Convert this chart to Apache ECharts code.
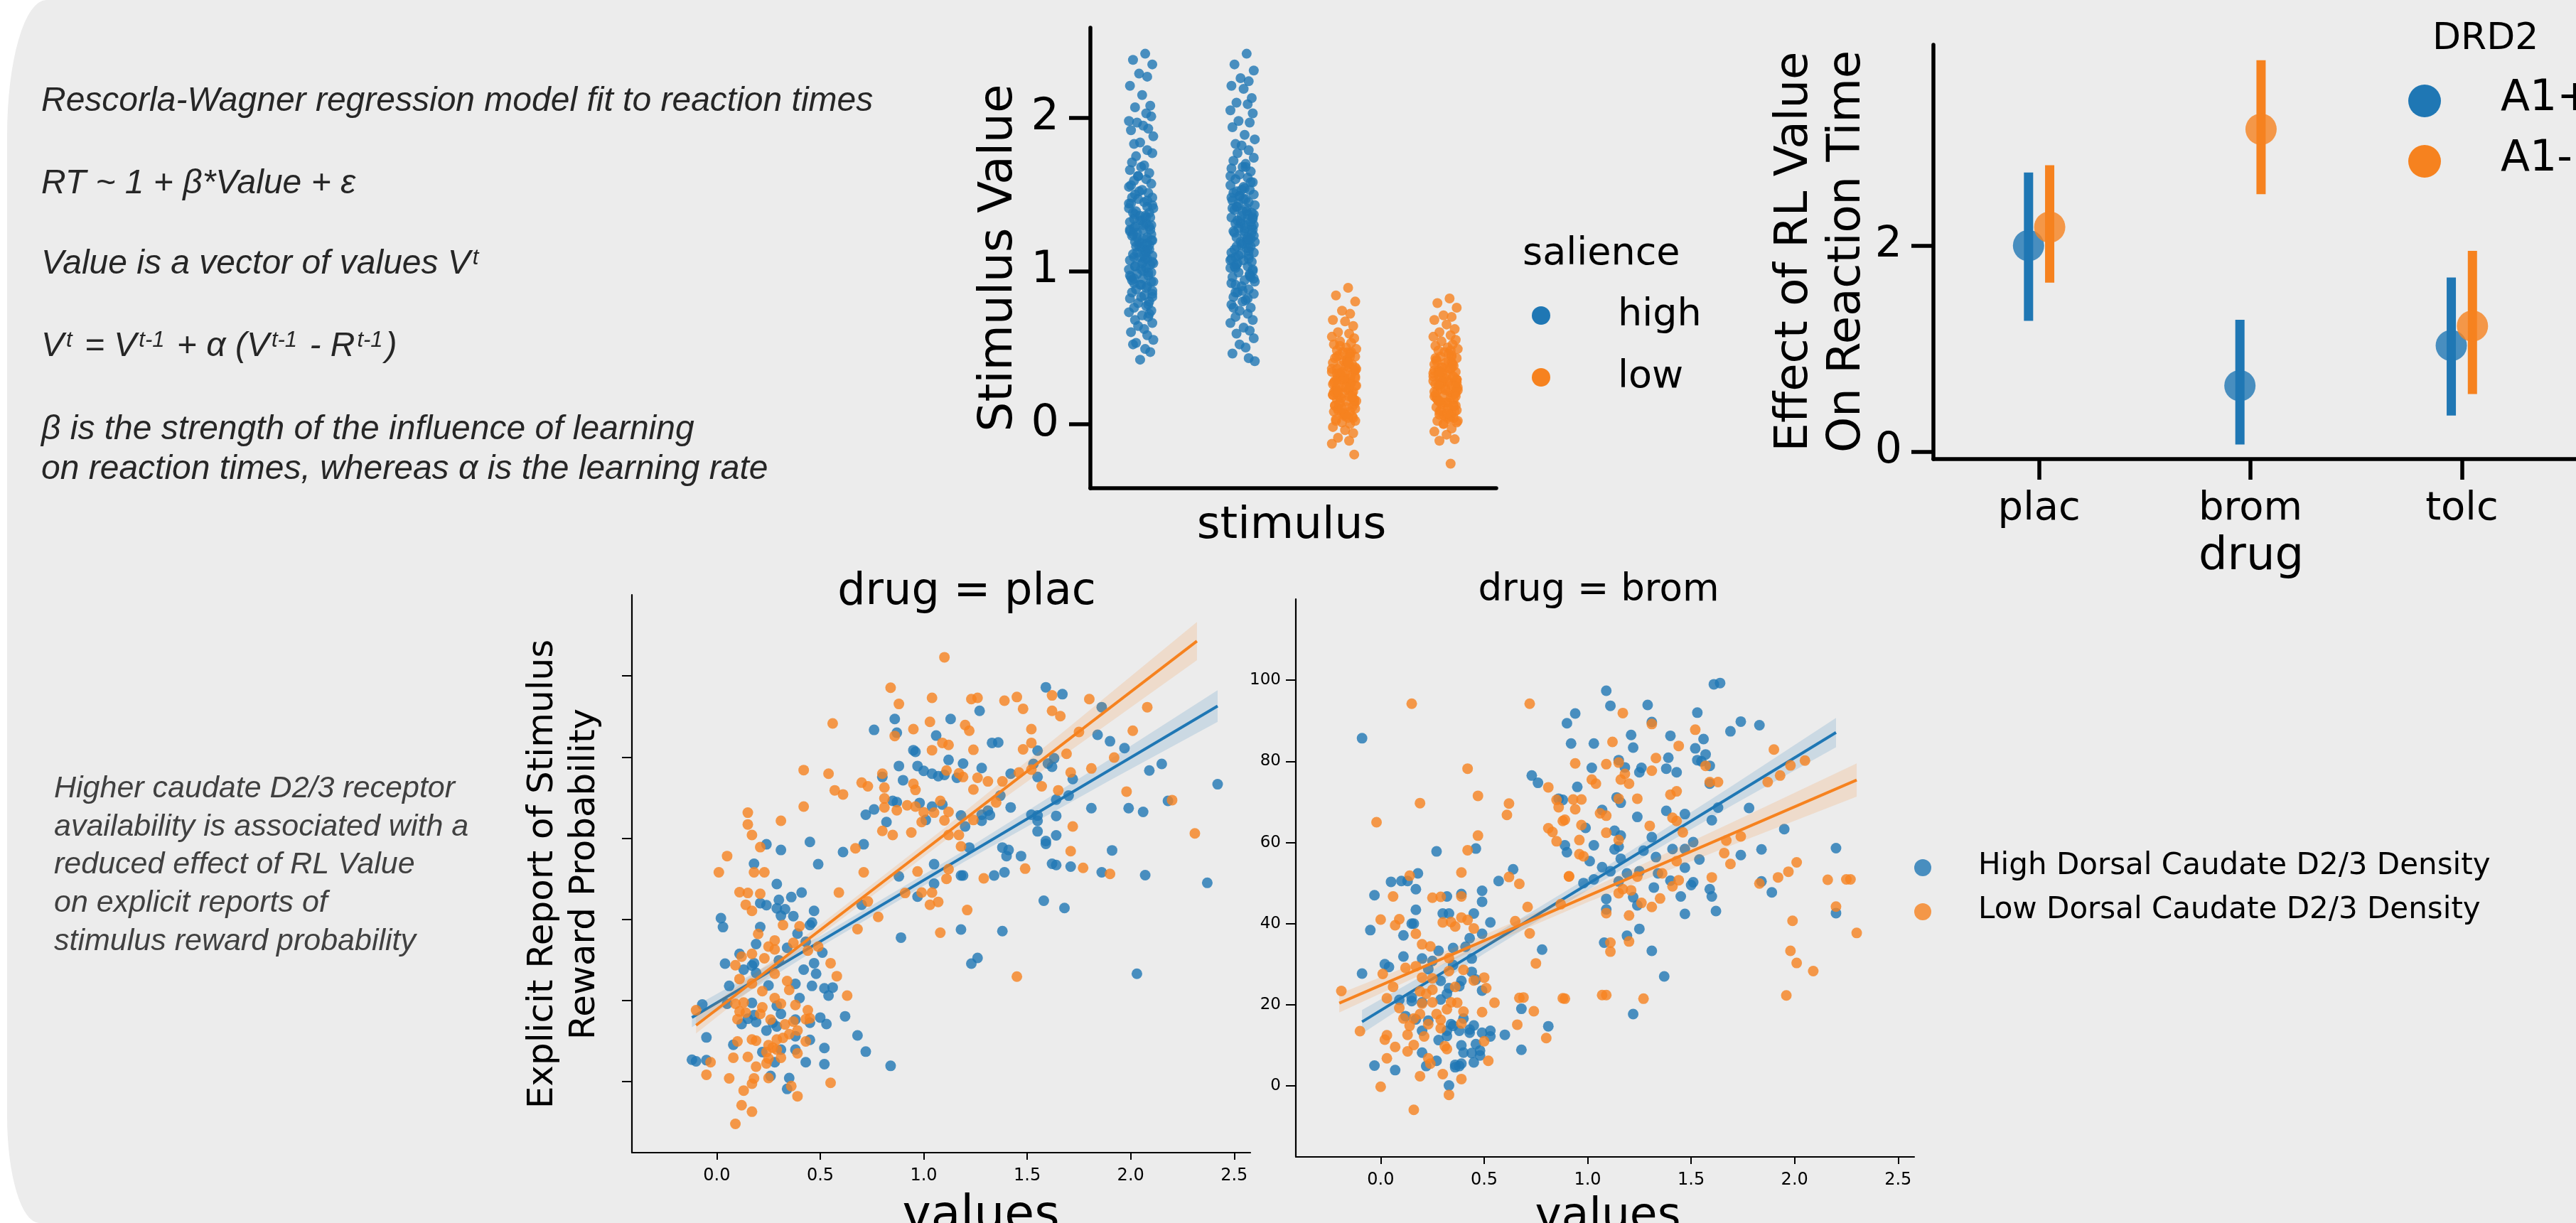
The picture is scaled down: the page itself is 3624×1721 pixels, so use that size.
<!DOCTYPE html>
<html>
<head>
<meta charset="utf-8">
<script src="https://cdn.jsdelivr.net/npm/echarts@6/dist/echarts.min.js"></script>
<style>
  html, body { margin: 0; padding: 0; background: #fff; overflow: hidden; }
  #panel {
    position: absolute; left: 10px; top: 0; width: 3700px; height: 1721px;
    background: #ececec;
    border-top-left-radius: 55px 190px;
    border-bottom-left-radius: 45px 150px;
  }
  #chart { position: absolute; left: 0; top: 0; width: 3624px; height: 1721px; }
</style>
</head>
<body>
<div id="panel"></div>
<div id="chart"></div>
<script>
// ---- data ----
const stimuli = ['s1', 's2', 's3', 's4']
const salience = ['high', 'high', 'low', 'low']

const stripHighA = [2.42, 2.38, 2.35, 2.29, 2.27, 2.21, 2.15, 2.08, 2.07, 2.03, 1.98, 2.01, 1.97, 1.93, 1.92, 1.95, 1.88, 1.83, 1.84, 1.79, 1.75, 1.77, 1.71, 1.69, 1.68, 1.66, 1.64, 1.62, 1.6, 1.59, 1.57, 1.55, 1.53, 1.51, 1.5, 1.48, 1.47, 1.45, 1.44, 1.42, 1.41, 1.39, 1.38, 1.36, 1.35, 1.33, 1.32, 1.31, 1.29, 1.28, 1.27, 1.25, 1.24, 1.23, 1.21, 1.2, 1.19, 1.18, 1.16, 1.15, 1.14, 1.13, 1.11, 1.1, 1.09, 1.08, 1.07, 1.05, 1.04, 1.03, 1.02, 1.01, 0.99, 0.98, 0.97, 0.96, 0.95, 0.93, 0.92, 0.91, 0.9, 0.88, 0.87, 0.86, 0.84, 0.83, 0.82, 0.8, 0.79, 0.77, 0.76, 0.74, 0.73, 0.71, 0.7, 0.68, 0.66, 0.64, 0.62, 0.6, 0.58, 0.55, 0.53, 0.52, 0.49, 0.47, 0.42, 1.26, 1.12, 1.17, 1.34, 1.06, 1.22, 1.3, 0.94, 1.0, 1.43, 1.37,
  1.46, 1.19, 0.91, 1.38, 1.08, 1.24, 0.85, 1.52, 1.14, 0.97, 1.33, 1.27, 1.03, 0.89, 1.41, 1.2, 1.12, 0.78, 1.56, 1.3, 1.05, 0.95, 1.36, 1.22, 1.16, 0.83, 1.48, 1.1, 1.01, 1.27, 0.72, 1.62, 1.35, 1.09, 0.93, 1.44, 1.18, 0.99, 1.29, 1.06]
const stripHighB = [2.42, 2.35, 2.31, 2.26, 2.24, 2.21, 2.19, 2.13, 2.1, 2.09, 2.05, 2.03, 1.98, 1.97, 1.94, 1.89, 1.86, 1.83, 1.82, 1.79, 1.77, 1.74, 1.72, 1.7, 1.68, 1.67, 1.65, 1.63, 1.61, 1.6, 1.58, 1.56, 1.55, 1.53, 1.52, 1.5, 1.49, 1.47, 1.46, 1.45, 1.43, 1.42, 1.4, 1.39, 1.38, 1.36, 1.35, 1.34, 1.32, 1.31, 1.3, 1.28, 1.27, 1.26, 1.24, 1.23, 1.22, 1.2, 1.19, 1.18, 1.16, 1.15, 1.14, 1.12, 1.11, 1.1, 1.08, 1.07, 1.06, 1.04, 1.03, 1.02, 1.0, 0.99, 0.97, 0.96, 0.94, 0.93, 0.91, 0.9, 0.88, 0.86, 0.85, 0.83, 0.81, 0.8, 0.78, 0.76, 0.74, 0.72, 0.7, 0.68, 0.66, 0.63, 0.61, 0.59, 0.56, 0.52, 0.5, 0.46, 0.43, 0.41, 1.33, 1.25, 1.41, 1.29, 1.17, 1.48, 1.37, 1.21, 1.09, 1.54, 1.44, 1.01,
  1.51, 1.26, 0.95, 1.42, 1.13, 1.31, 0.87, 1.58, 1.2, 1.03, 1.37, 1.33, 1.08, 0.92, 1.47, 1.25, 1.16, 0.82, 1.62, 1.35, 1.1, 0.98, 1.41, 1.28, 1.19, 0.86, 1.53, 1.15, 1.05, 1.3, 0.76, 1.68, 1.39, 1.12, 0.96, 1.49, 1.22, 1.02, 1.34, 1.07]
const stripLowA = [0.89, 0.84, 0.8, 0.74, 0.72, 0.68, 0.67, 0.64, 0.6, 0.59, 0.57, 0.56, 0.54, 0.53, 0.52, 0.5, 0.49, 0.48, 0.47, 0.46, 0.45, 0.44, 0.43, 0.42, 0.41, 0.4, 0.39, 0.38, 0.37, 0.36, 0.35, 0.34, 0.33, 0.32, 0.31, 0.3, 0.29, 0.28, 0.27, 0.26, 0.25, 0.24, 0.23, 0.22, 0.21, 0.2, 0.19, 0.18, 0.17, 0.16, 0.15, 0.14, 0.13, 0.12, 0.11, 0.1, 0.09, 0.08, 0.07, 0.06, 0.05, 0.04, 0.03, 0.02, 0.01, 0.0, -0.02, -0.04, -0.06, -0.09, -0.11, -0.13, -0.2, 0.33, 0.27, 0.21, 0.38, 0.15, 0.44, 0.24, 0.3, 0.18, 0.35, 0.12, 0.41, 0.07, 0.26, 0.2, 0.32, 0.23, 0.29, 0.16, 0.36, 0.05, 0.47, 0.1,
  0.31, 0.17, 0.42, 0.08, 0.26, 0.36, 0.13, 0.22, 0.47, 0.04, 0.29, 0.19, 0.39, 0.11, 0.33, 0.24, 0.51, 0.15, 0.28, 0.06, 0.37, 0.21, 0.44, 0.1, 0.3, 0.18, 0.4, 0.02, 0.25, 0.34]
const stripLowB = [0.82, 0.79, 0.76, 0.71, 0.7, 0.68, 0.65, 0.62, 0.6, 0.58, 0.57, 0.55, 0.54, 0.52, 0.51, 0.5, 0.49, 0.48, 0.47, 0.45, 0.44, 0.43, 0.42, 0.41, 0.4, 0.39, 0.38, 0.37, 0.36, 0.35, 0.34, 0.33, 0.32, 0.31, 0.3, 0.29, 0.28, 0.27, 0.26, 0.25, 0.24, 0.23, 0.22, 0.21, 0.2, 0.19, 0.18, 0.17, 0.16, 0.15, 0.14, 0.13, 0.12, 0.11, 0.1, 0.09, 0.08, 0.07, 0.06, 0.05, 0.04, 0.03, 0.02, 0.01, 0.0, -0.03, -0.05, -0.07, -0.1, -0.11, -0.26, 0.31, 0.25, 0.37, 0.19, 0.43, 0.28, 0.22, 0.34, 0.14, 0.4, 0.09, 0.29, 0.17, 0.46, 0.23, 0.35, 0.12, 0.27, 0.05, 0.32, 0.2,
  0.28, 0.14, 0.39, 0.06, 0.23, 0.33, 0.1, 0.19, 0.44, 0.02, 0.26, 0.16, 0.36, 0.08, 0.3, 0.21, 0.48, 0.12, 0.25, 0.04, 0.34, 0.18, 0.41, 0.07, 0.27, 0.15, 0.37, 0.0, 0.22, 0.31]
// horizontal jitter of the strip points (category units)
const stripJitter = [0.04, -0.08, 0.11, -0.02, 0.06, -0.11, 0.01, 0.09, -0.06, 0.05, -0.12, 0.1, -0.04, 0.07, -0.1, 0.02, 0.12, -0.07, -0.01, 0.06, -0.05, 0.11, -0.09, 0.03, 0.0, -0.11, 0.08, -0.03, 0.05, -0.07, 0.1, -0.12, 0.01, 0.07, -0.06, 0.11, -0.03, 0.03, -0.1, 0.06, 0.12, -0.05, -0.08, 0.04, 0.09, -0.01, -0.11, 0.05, 0.08, -0.07, 0.02, -0.04, 0.1, -0.09, 0.02, 0.11, -0.06, 0.06, -0.02, 0.0, 0.08]

const drugs = ['plac', 'brom', 'tolc']
const a1PlusMean = [2.0, 0.64, 1.03]
const a1PlusLow = [1.27, 0.07, 0.35]
const a1PlusHigh = [2.71, 1.28, 1.69]
const a1MinusMean = [2.18, 3.13, 1.22]
const a1MinusLow = [1.64, 2.5, 0.56]
const a1MinusHigh = [2.78, 3.8, 1.95]

const valueTicks = [0, 0.5, 1, 1.5, 2, 2.5]
const reportTicks = [0, 20, 40, 60, 80, 100]

const placHigh = [[0.95,81.7],[0.96,81.3],[0.88,77.8],[0.97,77.8],[1.00,76.6],[1.04,75.9],[1.07,75.3],[1.10,75.6],[1.12,79.3],[0.90,74.3],[0.80,75.1],[0.85,69.2],[0.87,68.9],[0.72,65.8],[0.76,67.1],[0.82,64.0],[0.98,68.7],[1.04,67.8],[1.09,68.3],[1.01,64.5],[0.24,58.5],[0.31,57.1],[0.45,59.1],[0.18,53.7],[0.49,53.6],[0.61,56.6],[0.71,58.5],[0.29,48.7],[0.30,44.8],[0.41,46.6],[0.36,45.5],[0.21,44.0],[0.24,43.5],[0.29,42.7],[0.33,42.5],[0.31,40.9],[0.37,40.8],[0.47,42.1],[0.02,40.3],[0.03,38.1],[0.21,38.1],[0.46,39.2],[0.45,38.6],[0.39,36.5],[0.43,34.5],[0.19,33.9],[0.34,33.0],[0.51,31.8],[0.11,31.5],[0.04,29.1],[0.18,29.2],[0.13,27.6],[0.17,28.6],[0.19,26.8],[0.30,29.9],[0.47,29.2],[0.42,27.6],[0.48,26.6],[0.06,23.6],[0.25,23.7],[0.38,24.1],[0.46,23.6],[0.52,23.0],[0.56,23.2],[0.54,21.2],[0.40,20.6],[-0.07,19.0],[0.05,19.2],[0.17,19.4],[0.29,18.7],[0.31,16.7],[0.18,16.4],[0.15,15.5],[0.12,14.2],[0.19,14.7],[0.27,14.5],[0.24,12.6],[0.29,13.6],[0.38,15.3],[0.45,14.5],[0.50,15.8],[0.53,14.2],[0.62,16.1],[0.38,11.2],[0.45,10.3],[0.68,11.4],[-0.05,10.9],[0.08,9.1],[0.22,7.3],[0.31,7.9],[0.38,7.9],[0.52,8.3],[0.72,7.4],[-0.12,5.4],[-0.10,5.0],[-0.05,5.3],[0.28,4.8],[0.43,4.8],[0.52,4.3],[0.84,3.9],[0.26,1.4],[0.35,0.9],[0.34,-1.8],[0.89,35.5],[0.88,50.6],[0.70,43.6],[0.97,45.6],[1.05,48.8],[1.05,53.6],
  [1.59,97.2],[1.67,95.5],[1.27,91.4],[1.13,89.4],[1.06,85.3],[1.33,83.5],[1.36,83.6],[1.55,81.6],[1.84,85.5],[1.90,83.9],[1.97,82.2],[1.86,92.3],[1.19,78.4],[1.28,77.3],[1.62,77.6],[1.63,79.7],[1.60,78.4],[1.53,78.3],[1.42,75.9],[1.55,75.1],[1.72,74.6],[2.09,76.7],[2.15,78.3],[2.42,73.3],[1.16,74.9],[1.37,70.5],[1.70,70.5],[1.64,69.5],[1.42,67.6],[1.81,67.4],[1.99,67.4],[2.06,66.5],[2.18,69.2],[1.18,65.6],[1.28,65.8],[1.31,66.8],[1.32,65.7],[1.28,64.3],[1.20,62.9],[1.52,65.8],[1.55,65.6],[1.55,64.3],[1.64,65.5],[1.55,61.7],[1.64,60.7],[1.59,59.3],[1.59,58.6],[1.22,57.7],[1.38,57.7],[1.41,57.1],[1.40,55.6],[1.47,55.6],[1.91,57.0],[1.62,53.7],[1.64,53.4],[1.71,53.0],[1.86,51.6],[2.07,50.9],[2.37,49.0],[1.18,50.8],[1.19,50.8],[1.34,50.8],[1.39,51.6],[1.58,44.6],[1.68,42.8],[1.18,37.5],[1.38,37.1],[1.26,30.5],[1.23,29.1],[2.03,26.6],[0.86,89.4],[0.76,86.7],[0.87,86.0]]
const placLow = [[0.42,76.8],[0.54,75.9],[0.57,71.8],[0.61,70.8],[0.42,67.8],[0.31,64.3],[0.15,66.3],[0.15,63.4],[0.17,60.8],[0.21,57.8],[0.05,55.6],[0.01,51.6],[0.18,51.6],[0.23,51.6],[0.11,46.7],[0.15,46.5],[0.21,46.3],[0.14,43.6],[0.17,42.1],[0.32,38.6],[0.40,38.3],[0.20,36.4],[0.28,34.8],[0.25,33.3],[0.28,32.6],[0.37,34.2],[0.49,33.3],[0.44,32.3],[0.17,31.5],[0.12,30.8],[0.23,30.4],[0.09,28.7],[0.55,29.2],[0.58,26.0],[0.28,26.6],[0.11,25.3],[0.17,24.2],[0.34,24.8],[0.35,22.6],[0.22,22.3],[0.63,21.2],[0.28,20.6],[0.31,19.2],[0.38,18.9],[0.09,19.2],[0.13,19.5],[0.22,18.3],[-0.10,17.6],[0.11,17.3],[0.14,17.0],[0.21,16.7],[0.44,17.6],[0.10,15.4],[0.26,15.3],[0.43,15.4],[0.45,15.6],[0.33,14.1],[0.37,14.8],[0.39,12.6],[0.35,11.7],[0.17,10.4],[0.19,10.1],[0.29,10.4],[0.10,9.9],[0.32,10.8],[0.43,9.9],[0.25,9.0],[0.27,8.4],[0.29,7.9],[0.24,7.3],[0.39,7.0],[0.25,5.7],[0.31,5.9],[0.08,5.9],[0.15,6.1],[-0.03,4.8],[0.24,4.5],[0.19,3.7],[-0.05,1.7],[0.06,0.8],[0.18,0.8],[0.25,0.9],[0.17,-0.5],[0.55,-0.3],[0.13,-2.2],[0.36,-1.1],[0.39,-3.6],[0.12,-5.8],[0.17,-7.4],[0.09,-10.4],[0.68,37.6],[0.78,40.6],[0.71,51.6],[0.67,57.5],[0.59,46.6],[0.73,44.4],[0.91,46.5],[0.97,51.8],[0.99,46.6],[1.04,46.6],[1.03,43.6],[1.07,44.3],[1.08,36.7],[1.11,50.0],[0.80,75.9],[0.81,72.5],[0.70,73.7],[0.73,72.8],[0.81,69.8],[0.81,67.6],[0.87,66.9],[0.80,61.8],[0.85,60.8],[0.94,61.4],[0.92,68.1],[0.96,67.8],[0.95,73.4],[0.96,71.9],[1.00,66.4],[0.99,64.0],[1.05,66.3],[1.08,69.2],[1.10,64.4],[1.04,81.7],[1.12,60.8],[1.11,76.7],
  [1.10,104.6],[1.04,94.6],[1.03,88.7],[0.95,86.9],[1.23,94.3],[1.26,94.6],[1.20,87.9],[1.22,86.5],[1.39,93.9],[1.45,94.8],[1.48,91.9],[1.62,95.2],[1.62,91.4],[1.66,90.1],[1.80,94.3],[2.08,92.3],[2.01,86.5],[1.75,86.2],[1.52,86.9],[1.52,83.5],[1.48,81.9],[1.09,83.5],[1.12,83.0],[1.24,81.8],[1.69,80.8],[1.92,79.9],[1.17,76.0],[1.19,75.1],[1.26,74.9],[1.31,74.0],[1.38,74.0],[1.46,76.2],[1.52,76.9],[1.71,76.2],[1.81,77.2],[1.57,72.8],[1.65,71.8],[1.24,72.0],[1.98,71.5],[2.20,69.4],[1.35,68.8],[1.12,66.5],[1.24,64.5],[1.17,60.8],[1.18,58.0],[1.72,62.9],[1.71,56.8],[1.77,52.7],[1.90,51.2],[1.49,52.5],[1.29,50.1],[2.31,61.2],[1.12,52.4],[1.21,42.3],[1.45,25.9],[0.84,97.1],[0.88,93.1],[0.56,88.3],[0.86,85.2]]
const bromHigh = [[0.27,57.8],[0.46,58.5],[0.05,50.3],[0.10,50.5],[0.13,50.5],[0.18,52.4],[0.17,48.5],[-0.03,47.0],[0.32,46.7],[0.39,47.3],[0.49,48.1],[0.49,45.4],[0.57,50.5],[0.64,53.4],[0.17,43.4],[0.30,42.5],[0.33,42.5],[0.45,42.5],[0.53,40.3],[0.15,40.0],[0.16,40.0],[-0.05,38.4],[0.11,37.1],[0.43,36.4],[0.49,37.5],[0.41,34.3],[0.35,34.0],[0.28,33.3],[0.11,31.9],[0.20,31.4],[0.25,30.8],[0.44,31.4],[0.78,33.6],[-0.09,27.7],[0.02,30.0],[0.04,29.3],[0.23,28.8],[0.35,29.8],[0.44,28.1],[0.46,26.2],[0.29,25.9],[0.39,25.9],[0.38,24.6],[0.33,24.1],[0.49,23.5],[0.09,21.2],[0.15,21.8],[0.15,20.9],[0.29,21.3],[0.32,22.7],[0.20,20.6],[0.68,19.0],[0.12,17.2],[0.17,16.4],[0.23,16.1],[0.34,15.2],[0.35,14.8],[0.40,16.6],[0.20,13.6],[0.32,13.6],[0.38,13.6],[0.45,14.9],[0.43,13.9],[0.43,13.1],[0.49,13.1],[0.53,13.6],[0.53,12.2],[0.60,12.6],[0.81,14.7],[0.28,11.3],[0.32,12.3],[0.39,10.0],[0.46,10.3],[0.48,8.7],[0.40,8.2],[0.44,8.1],[0.48,7.5],[0.68,8.9],[0.20,8.2],[0.27,6.2],[0.22,4.9],[-0.03,5.0],[0.07,3.9],[0.36,5.2],[0.38,4.9],[0.39,5.5],[0.36,4.6],[0.45,5.8],[0.33,0.1],[-0.09,85.7],[0.73,76.5],[0.76,74.7],[0.86,70.8],
  [1.09,97.4],[1.11,93.7],[0.94,91.8],[0.90,89.4],[1.29,93.9],[1.31,89.7],[1.61,99.0],[1.64,99.3],[1.53,92.0],[1.74,89.8],[1.83,88.9],[1.69,87.4],[1.56,85.5],[1.52,83.2],[1.57,81.7],[1.53,80.3],[1.55,80.0],[1.59,78.9],[1.59,74.5],[1.21,86.5],[1.22,83.4],[1.40,86.3],[1.39,80.9],[1.38,78.2],[1.43,77.3],[1.26,78.4],[1.25,77.3],[0.92,84.4],[1.03,84.4],[1.02,78.4],[1.15,80.3],[1.18,78.5],[0.95,73.7],[0.88,70.5],[1.14,71.1],[1.16,69.8],[1.07,68.0],[1.24,66.3],[1.38,67.8],[1.47,67.0],[1.63,68.6],[1.60,65.5],[1.78,68.5],[1.95,63.3],[0.99,63.6],[1.13,62.9],[1.16,61.7],[1.15,59.0],[1.13,58.3],[1.03,59.3],[0.89,59.3],[0.90,57.6],[1.31,61.3],[1.27,58.0],[1.51,60.1],[1.41,58.4],[1.47,58.4],[1.33,56.4],[1.16,56.0],[1.01,55.4],[1.07,53.9],[1.11,52.9],[1.54,55.8],[1.47,53.8],[1.84,58.3],[1.74,56.9],[2.20,58.6],[0.98,50.0],[1.03,50.9],[1.19,52.4],[1.25,52.9],[1.34,52.4],[1.15,50.4],[1.40,50.6],[1.51,50.2],[1.50,49.5],[1.32,48.9],[1.59,48.5],[1.60,46.7],[1.45,46.7],[1.84,50.4],[1.89,47.7],[2.20,42.6],[1.09,46.1],[1.09,43.5],[1.22,46.5],[1.24,44.5],[1.47,42.4],[1.62,43.1],[1.25,38.7],[1.19,37.0],[1.08,35.3],[1.31,33.3],[1.37,27.0],[1.22,17.7]]
const bromLow = [[-0.02,65.0],[0.47,61.7],[0.42,58.1],[0.39,52.6],[0.14,51.8],[0.06,46.7],[0.25,46.4],[0.29,46.6],[0.39,46.7],[0.62,51.5],[0.67,49.8],[0.00,41.0],[0.09,41.1],[0.07,39.6],[0.30,40.3],[0.34,40.4],[0.36,39.3],[0.39,41.5],[0.42,40.9],[0.45,38.8],[0.17,37.5],[0.20,34.9],[0.24,34.4],[0.33,31.5],[0.71,44.1],[0.65,40.6],[0.72,37.6],[0.75,30.2],[0.91,51.6],[0.87,44.8],[0.12,29.1],[0.17,29.5],[0.01,27.6],[0.20,26.7],[0.25,26.5],[0.33,28.3],[0.40,28.6],[0.50,26.7],[0.45,26.0],[0.06,24.4],[0.36,24.4],[0.51,24.1],[-0.19,23.4],[0.03,21.6],[0.19,23.3],[0.22,22.7],[0.25,23.7],[0.20,20.3],[0.25,20.6],[0.34,20.6],[0.37,20.5],[0.55,20.5],[0.09,19.2],[0.32,18.9],[0.40,18.3],[0.49,18.2],[0.19,17.7],[0.27,17.7],[0.11,16.6],[0.16,16.6],[0.29,16.3],[0.23,15.2],[0.39,15.4],[0.14,14.8],[0.29,14.2],[0.66,15.1],[0.74,18.4],[0.67,21.7],[0.69,21.8],[0.88,21.6],[-0.10,13.5],[0.03,12.5],[0.02,11.4],[0.13,12.6],[0.21,12.2],[0.16,10.1],[0.13,8.5],[0.07,9.6],[0.31,9.8],[0.32,9.1],[0.50,11.0],[0.80,11.8],[0.03,6.8],[0.23,6.8],[0.24,5.5],[0.52,6.2],[0.19,2.4],[0.30,2.9],[0.39,1.7],[0.00,-0.2],[0.33,-2.2],[0.16,-5.9],[0.85,60.3],[0.81,63.5],[0.83,62.6],[0.88,65.3],
  [0.15,94.2],[0.42,78.2],[0.19,69.7],[0.47,71.5],[0.62,69.6],[0.61,66.8],[0.72,94.2],[0.81,73.6],[0.85,70.5],[0.86,68.7],
  [1.17,91.9],[1.31,89.2],[1.12,84.8],[0.94,79.5],[1.09,79.3],[1.15,79.7],[1.33,80.8],[1.44,83.8],[1.52,87.8],[1.31,77.7],[1.18,76.9],[1.16,75.5],[1.20,74.5],[1.02,75.5],[1.04,74.5],[1.57,78.9],[1.59,74.9],[1.63,74.9],[1.90,82.9],[1.98,79.0],[2.05,80.2],[1.93,76.5],[1.87,74.9],[0.93,70.6],[0.97,70.6],[0.94,68.2],[0.89,65.6],[1.15,70.8],[1.24,70.8],[1.40,71.8],[1.43,72.6],[1.06,67.2],[1.09,66.6],[0.97,64.3],[1.09,62.4],[1.15,60.6],[0.96,60.6],[1.30,64.1],[1.41,66.1],[1.43,65.3],[1.46,62.5],[1.67,60.5],[1.74,61.5],[1.66,57.4],[1.69,54.7],[0.96,57.1],[0.98,56.6],[0.91,51.7],[1.24,51.6],[1.36,52.4],[1.43,55.4],[1.44,50.7],[1.41,49.2],[1.60,51.4],[1.83,49.9],[1.92,51.4],[1.97,52.8],[2.01,55.1],[2.16,50.8],[2.25,50.9],[2.27,50.9],[1.15,47.5],[1.17,48.5],[1.21,48.2],[1.26,45.1],[1.35,46.2],[1.31,44.1],[1.09,42.6],[1.20,42.0],[2.20,44.2],[1.99,40.7],[2.30,37.7],[1.11,35.3],[1.20,35.6],[1.11,33.1],[1.98,33.3],[2.01,30.3],[2.09,28.3],[1.07,22.4],[1.09,22.4],[1.27,21.5],[0.89,21.5],[1.96,22.3]]

// regression lines (end points) and their confidence bands
const placHighFit = [[-0.12, 15.8], [2.42, 92.6]]
const placHighBandX = [-0.12, 0.5, 1.2, 1.9, 2.42]
const placHighBandLo = [13.4, 33.2, 54.3, 74.3, 88.7]
const placHighBandHi = [18.2, 35.9, 57.1, 79.5, 96.5]
const placLowFit = [[-0.10, 13.9], [2.32, 108.6]]
const placLowBandX = [-0.10, 0.5, 1.1, 1.7, 2.32]
const placLowBandLo = [11.9, 36.1, 59.3, 81.3, 103.9]
const placLowBandHi = [15.9, 38.7, 62.5, 87.3, 113.3]
const bromHighFit = [[-0.09, 15.8], [2.2, 87.1]]
const bromHighBandX = [-0.09, 0.5, 1.1, 1.7, 2.2]
const bromHighBandLo = [12.9, 32.6, 51.4, 69.2, 83.5]
const bromHighBandHi = [18.7, 35.8, 54.4, 74.0, 90.7]
const bromLowFit = [[-0.2, 20.4], [2.3, 75.4]]
const bromLowBandX = [-0.2, 0.4, 1.0, 1.7, 2.3]
const bromLowBandLo = [18.1, 32.2, 45.3, 59.4, 71.3]
const bromLowBandHi = [22.7, 35.0, 48.3, 65.0, 79.5]

// ---- styling ----
const BLUE = '#1f77b4'
const ORANGE = '#f6821f'
const FONT = 'DejaVu Sans'
const NOTE_FONT = 'Liberation Sans'

const chart = echarts.init(document.getElementById('chart'))

const heavyLine = { lineStyle: { color: '#000', width: 5.5 } }
const thinLine = { lineStyle: { color: '#000', width: 2.2 } }
const noSplit = { show: false }

const stripData = (k) => {
  const vals = [stripHighA, stripHighB, stripLowA, stripLowB][k]
  return vals.map((v, i) => [k + stripJitter[i % stripJitter.length], v])
}

const errorBars = (means, lo, hi, off, color) => ({
  type: 'custom',
  xAxisIndex: 1,
  yAxisIndex: 1,
  z: 3,
  silent: true,
  data: drugs.map((d, i) => [i + off, lo[i], hi[i]]),
  encode: { x: 0, y: [1, 2] },
  renderItem: (params, api) => {
    const a = api.coord([api.value(0), api.value(1)])
    const b = api.coord([api.value(0), api.value(2)])
    return {
      type: 'line',
      shape: { x1: a[0], y1: a[1], x2: b[0], y2: b[1] },
      style: { stroke: color, lineWidth: 13 },
    }
  },
})

const band = (xs, lo, hi, color, axis, z) => ({
  type: 'custom',
  xAxisIndex: axis,
  yAxisIndex: axis,
  z,
  silent: true,
  data: [[xs[0], lo[0]]],
  renderItem: (params, api) => {
    const top = xs.map((x, i) => api.coord([x, hi[i]]))
    const bottom = xs.map((x, i) => api.coord([x, lo[i]])).reverse()
    return {
      type: 'polygon',
      shape: { points: top.concat(bottom) },
      style: { fill: color, opacity: 0.16 },
    }
  },
})

const regScatter = (name, data, color, axis, z) => ({
  name,
  type: 'scatter',
  xAxisIndex: axis,
  yAxisIndex: axis,
  z,
  data,
  symbolSize: 15,
  itemStyle: { color, opacity: 0.8 },
})

const regLine = (data, color, axis, z) => ({
  type: 'line',
  xAxisIndex: axis,
  yAxisIndex: axis,
  z,
  data,
  showSymbol: false,
  silent: true,
  lineStyle: { color, width: 4 },
})

const valueXAxis = (grid) => ({
  gridIndex: grid,
  type: 'value',
  min: -0.41,
  max: 2.578,
  axisLine: { onZero: false, ...thinLine },
  axisTick: { customValues: valueTicks, length: 10, lineStyle: { color: '#000', width: 2 } },
  axisLabel: {
    customValues: valueTicks,
    formatter: (v) => v.toFixed(1),
    fontSize: 24,
    fontFamily: FONT,
    color: '#000',
    margin: 21,
  },
  splitLine: noSplit,
})

const reportYAxis = (grid, labels) => ({
  gridIndex: grid,
  type: 'value',
  min: -17.5,
  max: 120,
  axisLine: { show: true, onZero: false, ...thinLine },
  axisTick: { show: true, customValues: reportTicks, length: 14, lineStyle: { color: '#000', width: 2 } },
  axisLabel: {
    show: labels,
    customValues: reportTicks,
    fontSize: 23,
    fontFamily: FONT,
    color: '#000',
    margin: 21,
  },
  splitLine: noSplit,
})

const txt = (x, y, text, size, o = {}) => ({
  type: 'text',
  x,
  y,
  rotation: o.rot || 0,
  z: 100,
  silent: true,
  style: {
    text,
    fontSize: size,
    fontFamily: o.family || FONT,
    fontStyle: o.italic ? 'italic' : 'normal',
    fill: o.color || '#000',
    align: o.align || 'center',
    verticalAlign: o.valign || 'middle',
    rich: o.rich,
  },
})

const dot = (cx, cy, r, color, opacity = 1) => ({
  type: 'circle',
  z: 100,
  silent: true,
  shape: { cx, cy, r },
  style: { fill: color, opacity },
})

const supRich = {
  sup: { fontSize: 31, fontFamily: NOTE_FONT, fontStyle: 'italic', fill: '#262626', verticalAlign: 'top', padding: [0, 4, 18, 3] },
}
const note = { family: NOTE_FONT, italic: true, align: 'left', color: '#262626' }
const note2 = { family: NOTE_FONT, italic: true, align: 'left', color: '#404040' }

const notesTop = [
  [143, 'Rescorla-Wagner regression model fit to reaction times'],
  [259, 'RT ~ 1 + β*Value + ε'],
  [372, 'Value is a vector of values V{sup|t}'],
  [488, 'V{sup|t} = V{sup|t-1} + α (V{sup|t-1} - R{sup|t-1})'],
  [605, 'β is the strength of the influence of learning'],
  [661, 'on reaction times, whereas α is the learning rate'],
]
const notesBottom = [
  'Higher caudate D2/3 receptor',
  'availability is associated with a',
  'reduced effect of RL Value',
  'on explicit reports of',
  'stimulus reward probability',
]

const graphic = [
  ...notesTop.map(([y, t]) => txt(58, y, t, 48, { ...note, rich: supRich })),
  ...notesBottom.map((t, i) => txt(76, 1110 + i * 53.7, t, 43, note2)),

  // stimulus strip plot
  txt(1406, 363, 'Stimulus Value', 66, { rot: Math.PI / 2 }),
  txt(1817, 741, 'stimulus', 63),
  txt(2142, 358, 'salience', 54, { align: 'left' }),
  dot(2168, 444, 13, BLUE),
  dot(2168, 531, 13, ORANGE),
  txt(2276, 444, 'high', 54, { align: 'left' }),
  txt(2276, 531, 'low', 54, { align: 'left' }),

  // point plot
  txt(2525, 354, 'Effect of RL Value', 64, { rot: Math.PI / 2 }),
  txt(2599, 354, 'On Reaction Time', 64, { rot: Math.PI / 2 }),
  txt(3167, 784, 'drug', 64),
  txt(3422, 55, 'DRD2', 52, { align: 'left' }),
  dot(3411, 142, 23, BLUE),
  dot(3411, 227, 23, ORANGE),
  txt(3518, 139, 'A1+', 60, { align: 'left' }),
  txt(3518, 224, 'A1-', 60, { align: 'left' }),

  // regression facets
  txt(1360, 834, 'drug = plac', 62),
  txt(2249, 831, 'drug = brom', 53),
  txt(764, 1230, 'Explicit Report of Stimulus', 50, { rot: Math.PI / 2 }),
  txt(823, 1230, 'Reward Probability', 50, { rot: Math.PI / 2 }),
  txt(1380, 1712, 'values', 68),
  txt(2262, 1713, 'values', 63),
  dot(2705, 1221, 12, BLUE, 0.8),
  dot(2705, 1283, 12, ORANGE, 0.8),
  txt(2783, 1219, 'High Dorsal Caudate D2/3 Density', 42, { align: 'left' }),
  txt(2783, 1281, 'Low Dorsal Caudate D2/3 Density', 42, { align: 'left' }),
]

const option = {
  animation: false,
  backgroundColor: 'transparent',
  grid: [
    { left: 1534, top: 39, width: 571, height: 648, outerBoundsMode: 'none' },
    { left: 2720, top: 63, width: 904, height: 583, outerBoundsMode: 'none' },
    { left: 889, top: 837, width: 870, height: 785, outerBoundsMode: 'none' },
    { left: 1823, top: 843, width: 870, height: 785, outerBoundsMode: 'none' },
  ],
  xAxis: [
    {
      gridIndex: 0, type: 'value', min: -0.5, max: 3.5,
      axisLine: { onZero: false, ...heavyLine },
      axisTick: { show: false }, axisLabel: { show: false }, splitLine: noSplit,
    },
    {
      gridIndex: 1, type: 'value', min: -0.5, max: 2.54,
      axisLine: { onZero: false, ...heavyLine },
      axisTick: { customValues: [0, 1, 2], length: 29, lineStyle: { color: '#000', width: 5.5 } },
      axisLabel: {
        customValues: [0, 1, 2], formatter: (v) => drugs[v],
        fontSize: 56, fontFamily: FONT, color: '#000', margin: 42,
      },
      splitLine: noSplit,
    },
    valueXAxis(2),
    valueXAxis(3),
  ],
  yAxis: [
    {
      gridIndex: 0, type: 'value', min: -0.42, max: 2.59,
      axisLine: { show: true, onZero: false, ...heavyLine },
      axisTick: { show: true, customValues: [0, 1, 2], length: 30, lineStyle: { color: '#000', width: 5.5 } },
      axisLabel: { customValues: [0, 1, 2], fontSize: 62, fontFamily: FONT, color: '#000', margin: 44 },
      splitLine: noSplit,
    },
    {
      gridIndex: 1, type: 'value', min: -0.072, max: 3.95,
      axisLine: { show: true, onZero: false, ...heavyLine },
      axisTick: { show: true, customValues: [0, 2], length: 31, lineStyle: { color: '#000', width: 5.5 } },
      axisLabel: { customValues: [0, 2], fontSize: 60, fontFamily: FONT, color: '#000', margin: 44 },
      splitLine: noSplit,
    },
    reportYAxis(2, false),
    reportYAxis(3, true),
  ],
  graphic,
  series: [
    // strip plot
    {
      name: 'high', type: 'scatter', xAxisIndex: 0, yAxisIndex: 0, symbolSize: 14,
      itemStyle: { color: BLUE },
      data: stimuli.flatMap((s, k) => (salience[k] === 'high' ? stripData(k) : [])),
    },
    {
      name: 'low', type: 'scatter', xAxisIndex: 0, yAxisIndex: 0, symbolSize: 14,
      itemStyle: { color: ORANGE },
      data: stimuli.flatMap((s, k) => (salience[k] === 'low' ? stripData(k) : [])),
    },

    // point plot
    errorBars(a1PlusMean, a1PlusLow, a1PlusHigh, -0.05, BLUE),
    {
      name: 'A1+', type: 'scatter', xAxisIndex: 1, yAxisIndex: 1, z: 4, symbolSize: 44,
      itemStyle: { color: BLUE },
      data: a1PlusMean.map((v, i) => [i - 0.05, v]),
    },
    errorBars(a1MinusMean, a1MinusLow, a1MinusHigh, 0.05, ORANGE),
    {
      name: 'A1-', type: 'scatter', xAxisIndex: 1, yAxisIndex: 1, z: 4, symbolSize: 44,
      itemStyle: { color: ORANGE },
      data: a1MinusMean.map((v, i) => [i + 0.05, v]),
    },

    // drug = plac
    regScatter('High Dorsal Caudate D2/3 Density', placHigh, BLUE, 2, 2),
    band(placHighBandX, placHighBandLo, placHighBandHi, BLUE, 2, 3),
    regLine(placHighFit, BLUE, 2, 4),
    regScatter('Low Dorsal Caudate D2/3 Density', placLow, ORANGE, 2, 5),
    band(placLowBandX, placLowBandLo, placLowBandHi, ORANGE, 2, 6),
    regLine(placLowFit, ORANGE, 2, 7),

    // drug = brom
    regScatter('High Dorsal Caudate D2/3 Density', bromHigh, BLUE, 3, 2),
    band(bromHighBandX, bromHighBandLo, bromHighBandHi, BLUE, 3, 3),
    regLine(bromHighFit, BLUE, 3, 4),
    regScatter('Low Dorsal Caudate D2/3 Density', bromLow, ORANGE, 3, 5),
    band(bromLowBandX, bromLowBandLo, bromLowBandHi, ORANGE, 3, 6),
    regLine(bromLowFit, ORANGE, 3, 7),
  ],
}

chart.setOption(option)
</script>
</body>
</html>
